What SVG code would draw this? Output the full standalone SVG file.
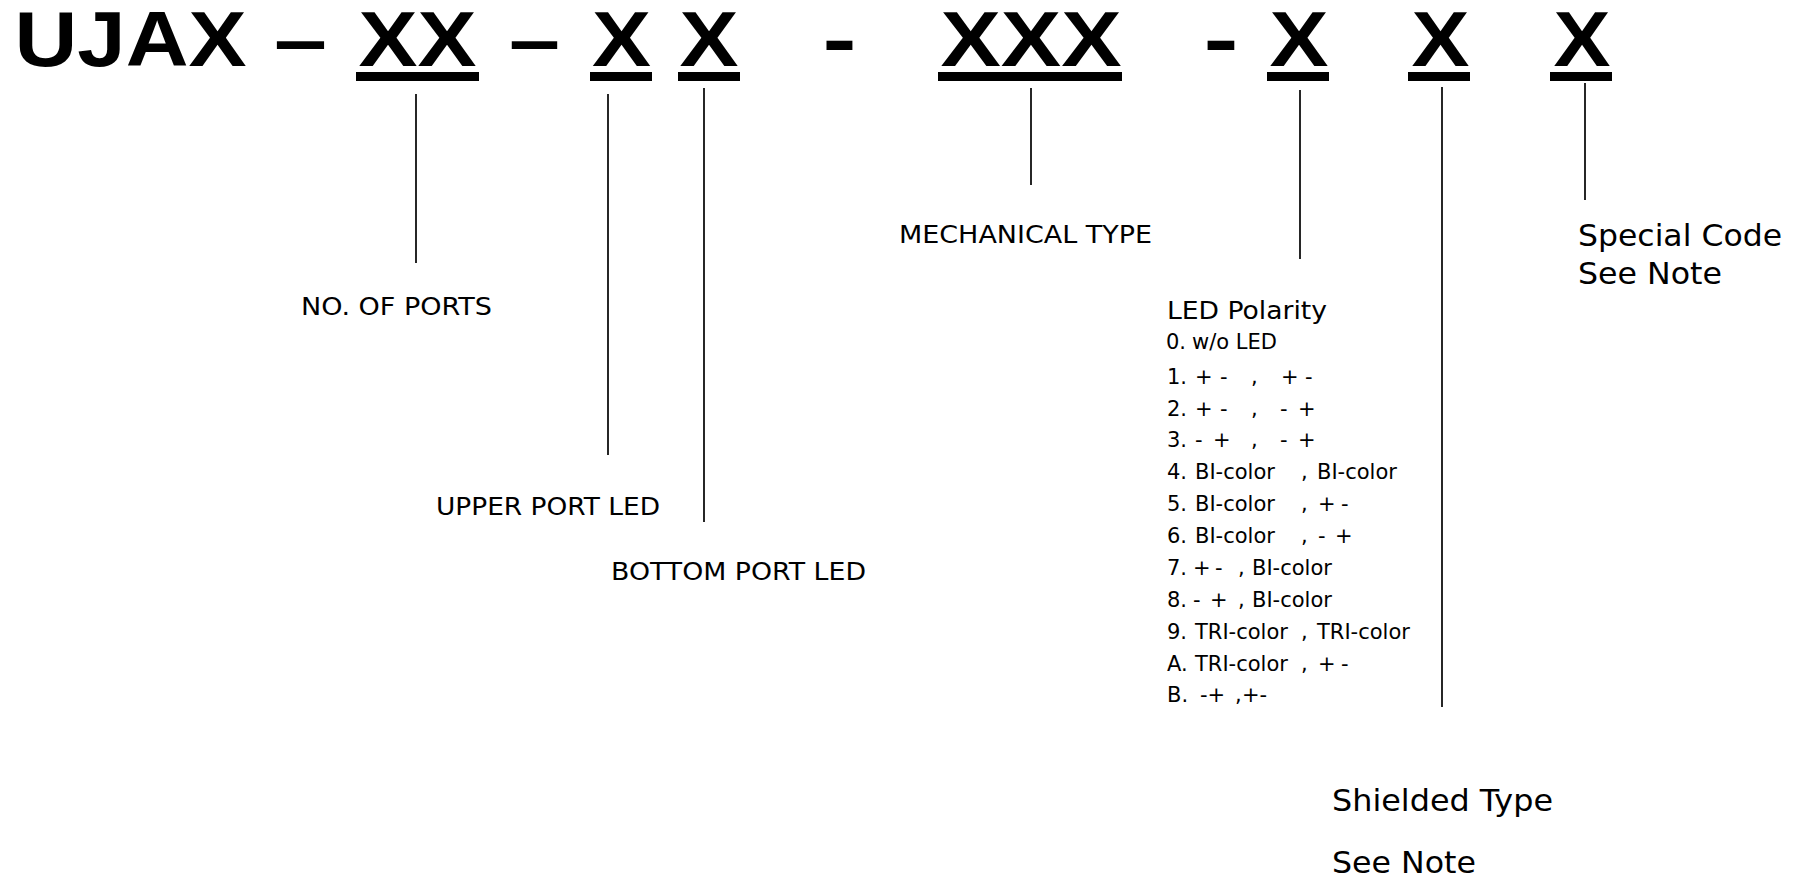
<svg xmlns="http://www.w3.org/2000/svg" width="1807" height="881" viewBox="0 0 1807 881">
<style>
.t{font-family:"Liberation Sans",Arial,sans-serif;font-weight:bold;font-size:78px;fill:#000;text-anchor:middle}
.l{font-family:"DejaVu Sans","Liberation Sans",sans-serif;font-size:25px;fill:#000}
.s{font-family:"DejaVu Sans","Liberation Sans",sans-serif;font-size:21px;fill:#000}
.b{font-family:"DejaVu Sans","Liberation Sans",sans-serif;font-size:30px;fill:#000}
.c line{stroke:#000;stroke-width:1.7}
.u{fill:#000}
</style>
<rect width="1807" height="881" fill="#fff"/>
<g id="part-code">
<text class="t" x="130.5" y="66" textLength="232" lengthAdjust="spacingAndGlyphs">UJAX</text>
<text class="t" x="300.5" y="66" textLength="53" lengthAdjust="spacingAndGlyphs">–</text>
<text class="t" x="417.5" y="66" textLength="118" lengthAdjust="spacingAndGlyphs">XX</text>
<text class="t" x="534.5" y="66" textLength="51" lengthAdjust="spacingAndGlyphs">–</text>
<text class="t" x="621.5" y="66" textLength="59" lengthAdjust="spacingAndGlyphs">X</text>
<text class="t" x="709" y="66" textLength="59" lengthAdjust="spacingAndGlyphs">X</text>
<text class="t" x="839.5" y="66" textLength="34" lengthAdjust="spacingAndGlyphs">-</text>
<text class="t" x="1031" y="66" textLength="181" lengthAdjust="spacingAndGlyphs">XXX</text>
<text class="t" x="1221" y="66" textLength="35" lengthAdjust="spacingAndGlyphs">-</text>
<text class="t" x="1299" y="66" textLength="59" lengthAdjust="spacingAndGlyphs">X</text>
<text class="t" x="1440.5" y="66" textLength="58" lengthAdjust="spacingAndGlyphs">X</text>
<text class="t" x="1582" y="66" textLength="57" lengthAdjust="spacingAndGlyphs">X</text>
<rect class="u" x="356" y="72" width="123" height="9"/>
<rect class="u" x="590" y="72" width="62" height="9"/>
<rect class="u" x="678" y="72" width="62" height="9"/>
<rect class="u" x="938" y="72" width="184" height="9"/>
<rect class="u" x="1267" y="72" width="62" height="9"/>
<rect class="u" x="1408" y="72" width="62" height="9"/>
<rect class="u" x="1550" y="72" width="62" height="9"/>
</g>
<g id="connectors" class="c">
<line x1="416" y1="94" x2="416" y2="263"/>
<line x1="608" y1="94" x2="608" y2="455"/>
<line x1="704" y1="88" x2="704" y2="522"/>
<line x1="1031" y1="88" x2="1031" y2="185"/>
<line x1="1300" y1="90" x2="1300" y2="259"/>
<line x1="1442" y1="87" x2="1442" y2="707"/>
<line x1="1585" y1="83" x2="1585" y2="200"/>
</g>
<g id="no-of-ports"><text class="l" x="301" y="315" textLength="191" lengthAdjust="spacingAndGlyphs">NO. OF PORTS</text></g>
<g id="upper-port-led"><text class="l" x="436" y="515" textLength="224" lengthAdjust="spacingAndGlyphs">UPPER PORT LED</text></g>
<g id="bottom-port-led"><text class="l" x="611" y="580" textLength="255" lengthAdjust="spacingAndGlyphs">BOTTOM PORT LED</text></g>
<g id="mechanical-type"><text class="l" x="899" y="243" textLength="253" lengthAdjust="spacingAndGlyphs">MECHANICAL TYPE</text></g>
<g id="led-polarity">
<text class="l" x="1167" y="319" textLength="160" lengthAdjust="spacingAndGlyphs">LED Polarity</text>
<text class="s" y="349"><tspan x="1166">0.</tspan><tspan x="1192">w/o LED</tspan></text>
<text class="s" y="384"><tspan x="1167">1.</tspan><tspan x="1195">+</tspan><tspan x="1220">-</tspan><tspan x="1251">,</tspan><tspan x="1281">+</tspan><tspan x="1305">-</tspan></text>
<text class="s" y="416"><tspan x="1167">2.</tspan><tspan x="1195">+</tspan><tspan x="1220">-</tspan><tspan x="1251">,</tspan><tspan x="1280">-</tspan><tspan x="1298">+</tspan></text>
<text class="s" y="447"><tspan x="1167">3.</tspan><tspan x="1195">-</tspan><tspan x="1213">+</tspan><tspan x="1251">,</tspan><tspan x="1280">-</tspan><tspan x="1298">+</tspan></text>
<text class="s" y="479"><tspan x="1167">4.</tspan><tspan x="1195">BI-color</tspan><tspan x="1301">,</tspan><tspan x="1317">BI-color</tspan></text>
<text class="s" y="511"><tspan x="1167">5.</tspan><tspan x="1195">BI-color</tspan><tspan x="1301">,</tspan><tspan x="1318">+</tspan><tspan x="1341">-</tspan></text>
<text class="s" y="543"><tspan x="1167">6.</tspan><tspan x="1195">BI-color</tspan><tspan x="1301">,</tspan><tspan x="1318">-</tspan><tspan x="1335">+</tspan></text>
<text class="s" y="575"><tspan x="1167">7.</tspan><tspan x="1193">+</tspan><tspan x="1215">-</tspan><tspan x="1238">,</tspan><tspan x="1252">BI-color</tspan></text>
<text class="s" y="607"><tspan x="1167">8.</tspan><tspan x="1193">-</tspan><tspan x="1210">+</tspan><tspan x="1238">,</tspan><tspan x="1252">BI-color</tspan></text>
<text class="s" y="639"><tspan x="1167">9.</tspan><tspan x="1195">TRI-color</tspan><tspan x="1301">,</tspan><tspan x="1317">TRI-color</tspan></text>
<text class="s" y="671"><tspan x="1167">A.</tspan><tspan x="1195">TRI-color</tspan><tspan x="1301">,</tspan><tspan x="1318">+</tspan><tspan x="1341">-</tspan></text>
<text class="s" y="702"><tspan x="1167">B.</tspan><tspan x="1200">-+</tspan><tspan x="1235">,</tspan><tspan x="1242">+-</tspan></text>
</g>
<g id="shielded-type">
<text class="b" x="1332" y="811" textLength="221" lengthAdjust="spacingAndGlyphs">Shielded Type</text>
<text class="b" x="1332" y="873" textLength="144" lengthAdjust="spacingAndGlyphs">See Note</text>
</g>
<g id="special-code">
<text class="b" x="1578" y="246" textLength="204" lengthAdjust="spacingAndGlyphs">Special Code</text>
<text class="b" x="1578" y="284" textLength="144" lengthAdjust="spacingAndGlyphs">See Note</text>
</g>
</svg>
